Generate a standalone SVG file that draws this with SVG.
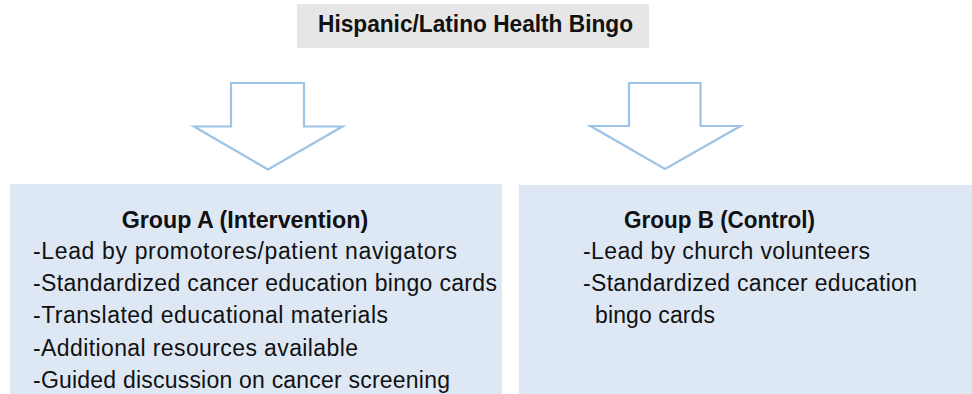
<svg xmlns="http://www.w3.org/2000/svg" width="972" height="394" viewBox="0 0 972 394">
<style>
.title{fill:#e7e6e6}
.box{fill:#dee8f5}
.arrow{fill:#ffffff;stroke:#9dc3e6;stroke-width:2.2;stroke-linejoin:miter}
text{font-family:"Liberation Sans",Arial,sans-serif;fill:#111111}
.h{font-weight:bold;font-size:23px}
.b{font-size:23px}
</style>
<rect width="972" height="394" fill="#ffffff"/>
<g id="title">
<rect class="title" x="297" y="4" width="352" height="44"/>
<text class="h" x="318" y="32" textLength="315" lengthAdjust="spacingAndGlyphs">Hispanic/Latino Health Bingo</text>
</g>
<g id="connectors">
<polygon class="arrow" points="231,83 304,83 304,126.5 342.5,126.5 268,169.5 194,126.5 231,126.5"/>
<polygon class="arrow" points="629,83 700.5,83 700.5,126 740.5,126 665,169 590.5,126 629,126"/>
</g>
<g id="groupA">
<rect class="box" x="10" y="184" width="492" height="210"/>
<text class="h" x="121.7" y="227.5" textLength="246.5" lengthAdjust="spacingAndGlyphs">Group A (Intervention)</text>
<text class="b" x="33" y="259" textLength="424">-Lead by promotores/patient navigators</text>
<text class="b" x="33" y="291.3" textLength="464">-Standardized cancer education bingo cards</text>
<text class="b" x="33" y="323.3" textLength="355">-Translated educational materials</text>
<text class="b" x="33" y="355.6" textLength="325">-Additional resources available</text>
<text class="b" x="33" y="387.5" textLength="417">-Guided discussion on cancer screening</text>
</g>
<g id="groupB">
<rect class="box" x="519" y="185" width="453" height="209"/>
<text class="h" x="624" y="227.5" textLength="191" lengthAdjust="spacingAndGlyphs">Group B (Control)</text>
<text class="b" x="583" y="259" textLength="287">-Lead by church volunteers</text>
<text class="b" x="583" y="291.3" textLength="334">-Standardized cancer education</text>
<text class="b" x="595" y="323.3" textLength="120">bingo cards</text>
</g>
</svg>
